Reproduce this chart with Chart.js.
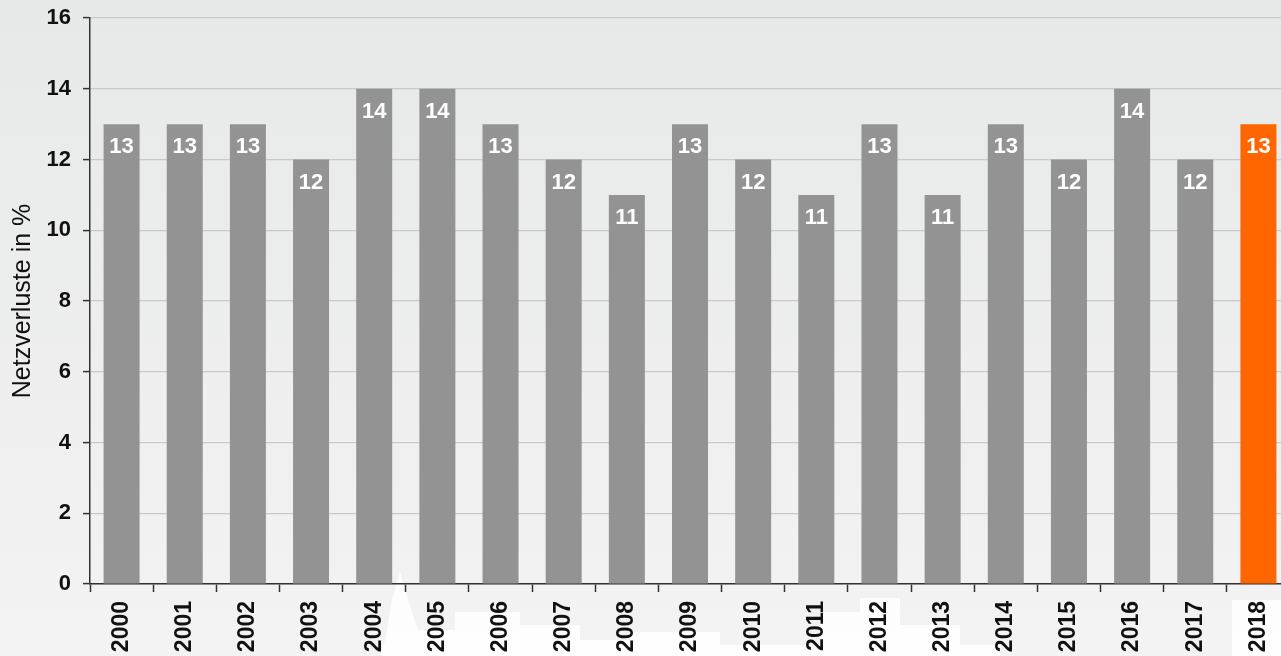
<!DOCTYPE html>
<html lang="de">
<head>
<meta charset="utf-8">
<title>Netzverluste 2000–2018</title>
<script src="https://cdn.jsdelivr.net/npm/chart.js@4/dist/chart.umd.min.js"></script>
<style>
  html, body { margin: 0; padding: 0; background: #ececec; }
  #wrap { width: 1281px; height: 656px; position: relative; overflow: hidden; }
  canvas { display: block; }
</style>
</head>
<body>
<div id="wrap"><canvas id="chart" width="1290" height="656"></canvas></div>
<script>
// Jahre und Netzverluste in Prozent
const years = ['2000','2001','2002','2003','2004','2005','2006','2007','2008','2009',
               '2010','2011','2012','2013','2014','2015','2016','2017','2018'];
const losses = [13, 13, 13, 12, 14, 14, 13, 12, 11, 13, 12, 11, 13, 11, 13, 12, 14, 12, 13];
const yTicks = [0, 2, 4, 6, 8, 10, 12, 14, 16];

const GREY = '#939393';
const ORANGE = '#ff6600';
const barColors = years.map((y, i) => i === years.length - 1 ? ORANGE : GREY);
const FONT = '"Liberation Sans", Arial, sans-serif';

// Hintergrund: leichter Verlauf mit blasser Stadtsilhouette am unteren Rand
const backdrop = {
  id: 'backdrop',
  beforeDraw(chart) {
    const { ctx, width, height } = chart;
    ctx.save();
    const g = ctx.createLinearGradient(0, 0, 0, height);
    g.addColorStop(0, '#e7e8e8');
    g.addColorStop(1, '#f3f3f3');
    ctx.fillStyle = g;
    ctx.fillRect(0, 0, width, height);
    ctx.fillStyle = 'rgba(255,255,255,0.85)';
    ctx.beginPath();
    ctx.moveTo(380, height);
    ctx.lineTo(385, 640); ctx.lineTo(392, 600); ctx.lineTo(400, 572);
    ctx.lineTo(408, 600); ctx.lineTo(418, 630); ctx.lineTo(455, 630);
    ctx.lineTo(455, 612); ctx.lineTo(520, 612); ctx.lineTo(520, 625);
    ctx.lineTo(580, 625); ctx.lineTo(580, 640); ctx.lineTo(630, 640);
    ctx.lineTo(630, 632); ctx.lineTo(720, 632); ctx.lineTo(720, 645);
    ctx.lineTo(820, 645); ctx.lineTo(820, 612); ctx.lineTo(860, 612);
    ctx.lineTo(860, 598); ctx.lineTo(900, 598); ctx.lineTo(900, 625);
    ctx.lineTo(960, 625); ctx.lineTo(960, 645); ctx.lineTo(1000, 645);
    ctx.lineTo(1000, height);
    ctx.closePath();
    ctx.fill();
    ctx.fillRect(1232, 600, width - 1232, height - 600);
    ctx.restore();
  }
};

// Werte weiß in den Balkenkopf schreiben
const barValues = {
  id: 'barValues',
  afterDatasetsDraw(chart) {
    const { ctx } = chart;
    const meta = chart.getDatasetMeta(0);
    ctx.save();
    ctx.fillStyle = '#ffffff';
    ctx.font = 'bold 22px ' + FONT;
    ctx.textAlign = 'center';
    ctx.textBaseline = 'middle';
    meta.data.forEach((bar, i) => {
      ctx.fillText(String(losses[i]), bar.x, bar.y + 23);
    });
    ctx.restore();
  }
};

new Chart(document.getElementById('chart'), {
  type: 'bar',
  data: {
    labels: years,
    datasets: [{
      data: losses,
      backgroundColor: barColors,
      borderWidth: 0,
      categoryPercentage: 1,
      barPercentage: 0.57
    }]
  },
  plugins: [backdrop, barValues],
  options: {
    responsive: false,
    animation: false,
    events: [],
    layout: { padding: { top: 18, right: 0, left: 0, bottom: 0 } },
    plugins: {
      legend: { display: false },
      tooltip: { enabled: false }
    },
    scales: {
      x: {
        offset: true,
        border: { display: true, color: '#333333', width: 1.5 },
        grid: { offset: true, drawOnChartArea: false, tickLength: 8, tickColor: '#333333', tickWidth: 1.5 },
        ticks: {
          minRotation: 90, maxRotation: 90, autoSkip: false,
          color: '#111111', padding: 9,
          font: { family: FONT, size: 23, weight: 'bold' }
        },
        afterFit(scale) {
          scale.height = 72;
          scale.paddingLeft = 0;
          scale.paddingRight = 0;
        }
      },
      y: {
        min: 0, max: 16,
        afterBuildTicks(scale) { scale.ticks = yTicks.map(v => ({ value: v })); },
        border: { display: true, color: '#333333', width: 1.5 },
        grid: { color: '#c9c9c9', lineWidth: 1.2, tickLength: 7, tickColor: '#333333', tickWidth: 1.5 },
        ticks: {
          color: '#111111', padding: 12,
          font: { family: FONT, size: 22, weight: 'bold' }
        },
        title: {
          display: true, text: 'Netzverluste in %', color: '#111111', padding: { top: 8, bottom: 0 },
          font: { family: FONT, size: 25 }
        },
        afterFit(scale) {
          scale.width = 90;
          scale.paddingTop = 0;
          scale.paddingBottom = 0;
        }
      }
    }
  }
});
</script>
</body>
</html>
